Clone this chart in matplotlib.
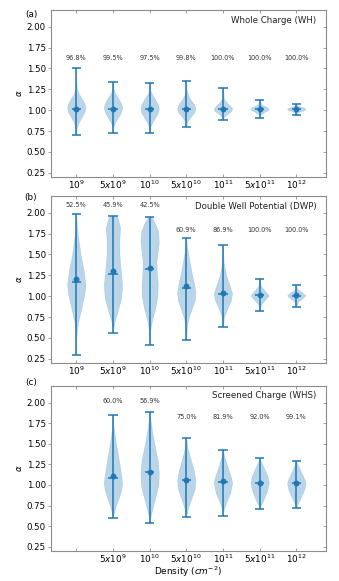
import matplotlib
matplotlib.use("Agg")
import matplotlib.pyplot as plt
import numpy as np

# ---------------- data ----------------
tick_labels = [r"$10^{9}$", r"$5x10^{9}$", r"$10^{10}$", r"$5x10^{10}$",
               r"$10^{11}$", r"$5x10^{11}$", r"$10^{12}$"]
tick_labels_c = ["", r"$5x10^{9}$", r"$10^{10}$", r"$5x10^{10}$",
                 r"$10^{11}$", r"$5x10^{11}$", r"$10^{12}$"]

titles = ["Whole Charge (WH)", "Double Well Potential (DWP)", "Screened Charge (WHS)"]
panel_tags = ["(a)", "(b)", "(c)"]

# Panel (a) Whole Charge
a_pos = [1, 2, 3, 4, 5, 6, 7]
a_min = [0.70, 0.73, 0.725, 0.80, 0.88, 0.91, 0.94]
a_max = [1.51, 1.34, 1.33, 1.345, 1.26, 1.125, 1.075]
a_mean = [1.02, 1.02, 1.015, 1.015, 1.01, 1.01, 1.01]
a_median = [1.02, 1.02, 1.015, 1.015, 1.01, 1.01, 1.01]
a_levels = [
    [0.70, 0.78, 0.85, 0.92, 0.98, 1.03, 1.08, 1.14, 1.20, 1.26, 1.35, 1.51],
    [0.73, 0.80, 0.86, 0.92, 0.98, 1.03, 1.08, 1.14, 1.20, 1.26, 1.34],
    [0.725, 0.79, 0.85, 0.91, 0.97, 1.02, 1.07, 1.13, 1.19, 1.25, 1.33],
    [0.80, 0.86, 0.92, 0.97, 1.02, 1.07, 1.12, 1.18, 1.24, 1.345],
    [0.88, 0.92, 0.96, 0.99, 1.02, 1.05, 1.09, 1.14, 1.26],
    [0.91, 0.95, 0.98, 1.00, 1.02, 1.04, 1.07, 1.125],
    [0.94, 0.97, 0.99, 1.00, 1.02, 1.04, 1.05, 1.075],
]
a_widths = [
    [0.0, 0.05, 0.25, 0.6, 0.9, 1.0, 0.9, 0.6, 0.25, 0.06, 0.01, 0.0],
    [0.0, 0.05, 0.25, 0.6, 0.9, 1.0, 0.9, 0.6, 0.25, 0.05, 0.0],
    [0.0, 0.06, 0.25, 0.6, 0.9, 1.0, 0.9, 0.6, 0.25, 0.05, 0.0],
    [0.0, 0.1, 0.45, 0.85, 1.0, 0.85, 0.5, 0.2, 0.04, 0.0],
    [0.0, 0.1, 0.5, 0.9, 1.0, 0.8, 0.4, 0.1, 0.0],
    [0.0, 0.1, 0.5, 0.9, 1.0, 0.75, 0.2, 0.0],
    [0.0, 0.1, 0.5, 0.9, 1.0, 0.6, 0.2, 0.0],
]
a_pct = ["96.8%", "99.5%", "97.5%", "99.8%", "100.0%", "100.0%", "100.0%"]
a_pct_y = [1.62, 1.62, 1.62, 1.62, 1.62, 1.62, 1.62]

# Panel (b) Double Well Potential
b_pos = [1, 2, 3, 4, 5, 6, 7]
b_min = [0.30, 0.56, 0.42, 0.47, 0.63, 0.82, 0.87]
b_max = [1.98, 1.96, 1.95, 1.70, 1.61, 1.21, 1.13]
b_mean = [1.21, 1.30, 1.335, 1.12, 1.04, 1.01, 1.01]
b_median = [1.165, 1.265, 1.32, 1.095, 1.03, 1.01, 1.005]
b_levels = [
    [0.30, 0.50, 0.58, 0.70, 0.86, 1.02, 1.14, 1.31, 1.47, 1.67, 1.83, 1.98],
    [0.56, 0.62, 0.70, 0.82, 0.98, 1.14, 1.30, 1.50, 1.66, 1.82, 1.94, 1.96],
    [0.42, 0.60, 0.72, 0.85, 1.00, 1.15, 1.30, 1.42, 1.55, 1.65, 1.78, 1.88, 1.95],
    [0.47, 0.65, 0.75, 0.85, 0.95, 1.05, 1.15, 1.30, 1.45, 1.60, 1.70],
    [0.63, 0.75, 0.85, 0.95, 1.03, 1.12, 1.25, 1.40, 1.61],
    [0.82, 0.90, 0.96, 1.01, 1.06, 1.12, 1.21],
    [0.87, 0.93, 0.97, 1.01, 1.05, 1.08, 1.13],
]
b_widths = [
    [0.0, 0.02, 0.06, 0.22, 0.55, 0.88, 1.0, 0.8, 0.5, 0.25, 0.07, 0.0],
    [0.0, 0.05, 0.18, 0.5, 0.9, 1.0, 0.85, 0.7, 0.68, 0.8, 0.5, 0.3],
    [0.0, 0.08, 0.28, 0.6, 0.85, 0.88, 0.78, 0.75, 0.9, 1.0, 0.92, 0.55, 0.2],
    [0.0, 0.08, 0.28, 0.6, 0.92, 1.0, 0.85, 0.55, 0.3, 0.08, 0.0],
    [0.0, 0.12, 0.45, 0.85, 1.0, 0.75, 0.35, 0.08, 0.0],
    [0.0, 0.15, 0.6, 1.0, 0.6, 0.15, 0.0],
    [0.0, 0.15, 0.6, 1.0, 0.6, 0.15, 0.0],
]
b_pct = ["52.5%", "45.9%", "42.5%", "60.9%", "86.9%", "100.0%", "100.0%"]
b_pct_y = [2.09, 2.09, 2.09, 1.79, 1.79, 1.79, 1.79]

# Panel (c) Screened Charge
c_pos = [2, 3, 4, 5, 6, 7]
c_min = [0.60, 0.535, 0.61, 0.62, 0.705, 0.725]
c_max = [1.85, 1.89, 1.575, 1.425, 1.325, 1.29]
c_mean = [1.115, 1.16, 1.065, 1.05, 1.025, 1.02]
c_median = [1.085, 1.155, 1.06, 1.04, 1.025, 1.02]
c_levels = [
    [0.60, 0.65, 0.75, 0.85, 0.95, 1.03, 1.10, 1.25, 1.40, 1.55, 1.70, 1.85],
    [0.535, 0.62, 0.75, 0.88, 1.00, 1.15, 1.30, 1.45, 1.60, 1.80, 1.89],
    [0.61, 0.65, 0.75, 0.85, 0.95, 1.05, 1.18, 1.30, 1.45, 1.575],
    [0.62, 0.70, 0.80, 0.90, 1.02, 1.08, 1.20, 1.35, 1.425],
    [0.705, 0.74, 0.82, 0.93, 1.03, 1.10, 1.20, 1.30, 1.325],
    [0.725, 0.77, 0.85, 0.95, 1.02, 1.06, 1.15, 1.25, 1.29],
]
c_widths = [
    [0.0, 0.08, 0.32, 0.65, 0.92, 1.0, 0.92, 0.72, 0.48, 0.27, 0.07, 0.0],
    [0.0, 0.1, 0.38, 0.7, 0.95, 1.0, 0.88, 0.6, 0.35, 0.07, 0.0],
    [0.0, 0.05, 0.28, 0.6, 0.9, 1.0, 0.82, 0.5, 0.14, 0.0],
    [0.0, 0.08, 0.38, 0.78, 1.0, 0.92, 0.55, 0.14, 0.0],
    [0.0, 0.08, 0.42, 0.82, 1.0, 0.88, 0.5, 0.08, 0.0],
    [0.0, 0.14, 0.5, 0.88, 1.0, 0.92, 0.55, 0.14, 0.0],
]
c_pct = ["60.0%", "56.9%", "75.0%", "81.9%", "92.0%", "99.1%"]
c_pct_y = [2.02, 2.02, 1.82, 1.82, 1.82, 1.82]

panels = [
    (a_pos, a_min, a_max, a_mean, a_median, a_levels, a_widths, a_pct, a_pct_y, tick_labels),
    (b_pos, b_min, b_max, b_mean, b_median, b_levels, b_widths, b_pct, b_pct_y, tick_labels),
    (c_pos, c_min, c_max, c_mean, c_median, c_levels, c_widths, c_pct, c_pct_y, tick_labels_c),
]

# ---------------- figure ----------------
W, H = 339, 581
fig = plt.figure(figsize=(W / 100, H / 100), dpi=100)
plt.rcParams['font.family'] = ['DejaVu Sans']

boxes = [(51, 326, 10, 177), (51, 326, 196, 363), (51, 326, 386, 551)]
tag_y = [15, 197, 382]
blue = "#1f77b4"
spine_col = "#8c8c8c"

for i, (box, pdata) in enumerate(zip(boxes, panels)):
    l, r, t, b = box
    ax = fig.add_axes([l / W, 1 - b / H, (r - l) / W, (b - t) / H])
    pos, mn, mx, mean, med, lev, wid, pct, pct_y, tlabels = pdata
    stats = []
    for k in range(len(pos)):
        stats.append(dict(coords=np.array(lev[k]), vals=np.array(wid[k]),
                          mean=mean[k], median=med[k], min=mn[k], max=mx[k]))
    parts = ax.violin(stats, positions=pos, widths=0.5, showmeans=False,
                      showextrema=True, showmedians=True)
    for body in parts['bodies']:
        body.set_facecolor(blue)
        body.set_edgecolor(blue)
        body.set_alpha(0.3)
        body.set_linewidth(0.3)
    for key in ('cmins', 'cmaxes', 'cbars', 'cmedians'):
        parts[key].set_color(blue)
        parts[key].set_linewidth(1.1)
    ax.scatter(pos, mean, s=18, color=blue, zorder=3, linewidths=0)
    for p, s, y in zip(pos, pct, pct_y):
        ax.text(p, y, s, ha='center', va='center', fontsize=4.7, color='#333333')

    ax.set_xlim(0.31, 7.81)
    ax.set_ylim(0.2, 2.2)
    ax.set_xticks([1, 2, 3, 4, 5, 6, 7])
    ax.set_xticklabels(tlabels, fontsize=6.4)
    ax.set_yticks([0.25, 0.5, 0.75, 1.0, 1.25, 1.5, 1.75, 2.0])
    ax.set_yticklabels(["0.25", "0.50", "0.75", "1.00", "1.25", "1.50", "1.75", "2.00"],
                       fontsize=6.2)
    ax.tick_params(axis='both', which='major', length=2.5,
                   width=0.6, color=spine_col)
    ax.tick_params(axis='x', direction='in', pad=1.5, top=True)
    ax.tick_params(axis='y', direction='out', pad=1.2, right=True)
    for tk in ax.yaxis.get_major_ticks():
        tk.tick2line.set_marker(0)
    for sp in ax.spines.values():
        sp.set_color(spine_col)
        sp.set_linewidth(0.8)
    ax.set_ylabel(r"$\alpha$", fontsize=6.2, labelpad=2)
    ax.text(0.965, 0.94, titles[i], transform=ax.transAxes, ha='right',
            va='center', fontsize=6.2, color='#222222')
    fig.text(31 / W, 1 - tag_y[i] / H, panel_tags[i], ha='center', va='center',
             fontsize=6.4)
    if i == 2:
        ax.set_xlabel(r"Density ($cm^{-2}$)", fontsize=6.4)
        ax.xaxis.set_label_coords(0.5, -0.085)

fig.savefig("out.png", dpi=100)
